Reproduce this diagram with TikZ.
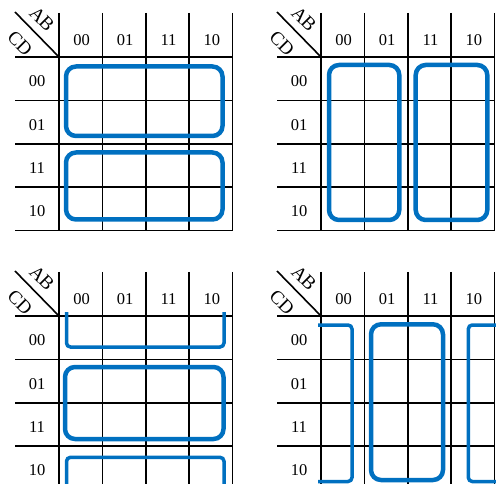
\documentclass[tikz,border=0pt]{standalone}
\usepackage{fontspec}
\setmainfont{Liberation Serif}
\usepackage{tikz}
\usetikzlibrary{positioning}
\definecolor{kblue}{RGB}{0,112,192}
\tikzstyle{gridline}=[black, line width=1.6pt]
\tikzstyle{grp}     =[draw=kblue, line width=4.5pt, rounded corners=10pt]
\tikzstyle{wrapgrp} =[draw=kblue, line width=3.5pt, rounded corners=4pt]
\tikzstyle{lbl}     =[font=\fontsize{16.5}{16.5}\selectfont, inner sep=0pt]
\tikzstyle{vars}    =[font=\fontsize{19}{19}\selectfont, inner sep=0pt, rotate=-45]

% one empty map: grid, corner and labels, origin at the top-left cell
\newcommand{\kmap}[1]{%
  \foreach \i in {0,...,4} {
    \draw[gridline] (\i*43.4, -44) -- (\i*43.4, 173.6);
    \draw[gridline] (-44, \i*43.4) -- (173.6, \i*43.4);
  }
  \draw[gridline] (-44,-45) -- (0,0);
  \node[vars] (#1-ab) at (-17,-38) {AB};
  \node[vars] (#1-cd) at (-39,-14) {CD};
  \foreach \l [count=\i from 0] in {00,01,11,10} {
    \node[lbl] (#1-col\l) at ({(\i+0.5)*43.4+1}, -17) {\l};
    \node[lbl] (#1-row\l) at (-22, {(\i+0.5)*43.4+2.5}) {\l};
  }
}

\begin{document}
\begin{tikzpicture}[x=1pt, y=-1pt]
  \useasboundingbox (0,0) rectangle (496,484);
  \clip (0,0) rectangle (496,484);

  % ── top left: two rows of four ─────────────────────────────────────
  \begin{scope}[shift={(59,57)}]
    \kmap{tl}
    \draw[grp] (7,9.5) rectangle (163.5,79);
    \draw[grp] (7,95.5) rectangle (163.5,162.5);
  \end{scope}

  % ── top right: two columns of four ─────────────────────────────────
  \begin{scope}[shift={(321,57)}]
    \kmap{tr}
    \draw[grp] (8,8) rectangle (78.3,163);
    \draw[grp] (94.7,8) rectangle (166.3,163);
  \end{scope}

  % ── bottom left: wrap top/bottom rows ──────────────────────────────
  \begin{scope}[shift={(59,316)}]
    \kmap{bl}
    \draw[wrapgrp] (7.5,-4) -- (7.5,31) -- (165,31) -- (165,-4);
    \draw[grp] (6,51) rectangle (164.5,123);
    \draw[wrapgrp] (7.5,180) -- (7.5,141.3) -- (165,141.3) -- (165,180);
  \end{scope}

  % ── bottom right: wrap left/right columns ──────────────────────────
  \begin{scope}[shift={(321,316)}]
    \kmap{br}
    \draw[wrapgrp] (-3,9) -- (31,9) -- (31,165.5) -- (-3,165.5);
    \draw[grp] (50,8.3) rectangle (122,164);
    \draw[wrapgrp] (185,9) -- (147.3,9) -- (147.3,165.5) -- (185,165.5);
  \end{scope}

\end{tikzpicture}
\end{document}
